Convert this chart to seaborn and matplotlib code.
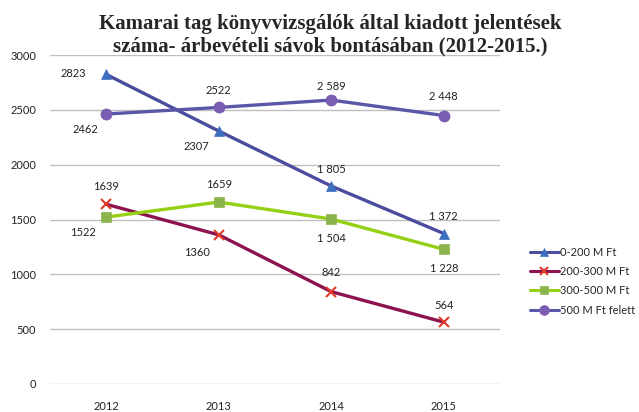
import pandas as pd
import seaborn as sns
import matplotlib.pyplot as plt
from matplotlib.lines import Line2D

years = ["2012", "2013", "2014", "2015"]
series_names = ["0-200 M Ft", "200-300 M Ft", "300-500 M Ft", "500 M Ft felett"]
v_0_200 = [2823, 2307, 1805, 1372]
v_200_300 = [1639, 1360, 842, 564]
v_300_500 = [1522, 1659, 1504, 1228]
v_500_up = [2462, 2522, 2589, 2448]
label_texts = {
    "0-200 M Ft": ["2823", "2307", "1 805", "1 372"],
    "200-300 M Ft": ["1639", "1360", "842", "564"],
    "300-500 M Ft": ["1522", "1659", "1 504", "1 228"],
    "500 M Ft felett": ["2462", "2522", "2 589", "2 448"],
}

df = pd.DataFrame({
    "year": years * 4,
    "series": [s for s in series_names for _ in years],
    "value": v_0_200 + v_200_300 + v_300_500 + v_500_up,
})

# line colour, marker, marker face colour, marker size
styles = {
    "0-200 M Ft": ("#4A4C9E", "^", "#3D6FC0", 7),
    "200-300 M Ft": ("#8C1350", "x", "#E03A2A", 7),
    "300-500 M Ft": ("#94D013", "s", "#8CB44C", 7),
    "500 M Ft felett": ("#5B57A8", "o", "#7A5CB0", 8),
}

# label offsets in points (dx, dy) per point
offsets = {
    "0-200 M Ft": [(-24, 1), (-16, -11), (0, 12), (0, 12)],
    "200-300 M Ft": [(0, 13), (-16, -13), (0, 14), (0, 12)],
    "300-500 M Ft": [(-17, -11), (0, 13), (0, -14), (0, -14)],
    "500 M Ft felett": [(-15, -11), (0, 12), (0, 10), (0, 14)],
}

sns.set_style("white")
plt.rcParams["font.family"] = ["Lato", "DejaVu Sans"]

fig = plt.figure(figsize=(6.39, 4.12), dpi=100)
ax = fig.add_axes([50 / 639, 1 - 384 / 412, 450 / 639, 329 / 412])

for name in series_names:
    color, marker, mface, ms = styles[name]
    sub = df[df["series"] == name]
    sns.lineplot(
        data=sub, x="year", y="value", ax=ax, color=color, linewidth=2.4,
        marker=marker, markersize=ms, markerfacecolor=mface,
        markeredgecolor=mface, markeredgewidth=1.5 if marker == "x" else 0.5,
        sort=False, legend=False,
    )
    for i, (yr, val) in enumerate(zip(sub["year"], sub["value"])):
        dx, dy = offsets[name][i]
        ax.annotate(label_texts[name][i], (i, val), xytext=(dx, dy),
                    textcoords="offset points", ha="center", va="center",
                    fontsize=8, color="#222222")

ax.set_xlim(-0.5, 3.5)
ax.set_ylim(0, 3000)
ax.set_yticks(range(0, 3001, 500))
ax.set_xlabel("")
ax.set_ylabel("")
ax.grid(axis="y", color="#BFBFBF", linewidth=1)
ax.grid(axis="x", visible=False)
for s in ax.spines.values():
    s.set_visible(False)
ax.tick_params(axis="both", length=0, labelsize=8, colors="#222222")
ax.tick_params(axis="x", pad=12)
ax.tick_params(axis="y", pad=10)

handles = []
for name in series_names:
    color, marker, mface, ms = styles[name]
    handles.append(Line2D([], [], color=color, linewidth=2.2, marker=marker,
                          markersize=ms - 1, markerfacecolor=mface,
                          markeredgecolor=mface,
                          markeredgewidth=1.5 if marker == "x" else 0.5))
fig.legend(handles=handles, labels=series_names, loc="center left",
           bbox_to_anchor=(520 / 639, 1 - 281 / 412), frameon=False,
           fontsize=8, handlelength=2.6, handletextpad=0.1, labelspacing=0.75)

fig.text(330 / 639, 1 - 35 / 412,
         "Kamarai tag könyvvizsgálók által kiadott jelentések\n"
         "száma- árbevételi sávok bontásában (2012-2015.)",
         ha="center", va="center", fontsize=15, fontweight="bold",
         family="Liberation Serif", linespacing=1.15)

fig.savefig("out.png", dpi=100)
